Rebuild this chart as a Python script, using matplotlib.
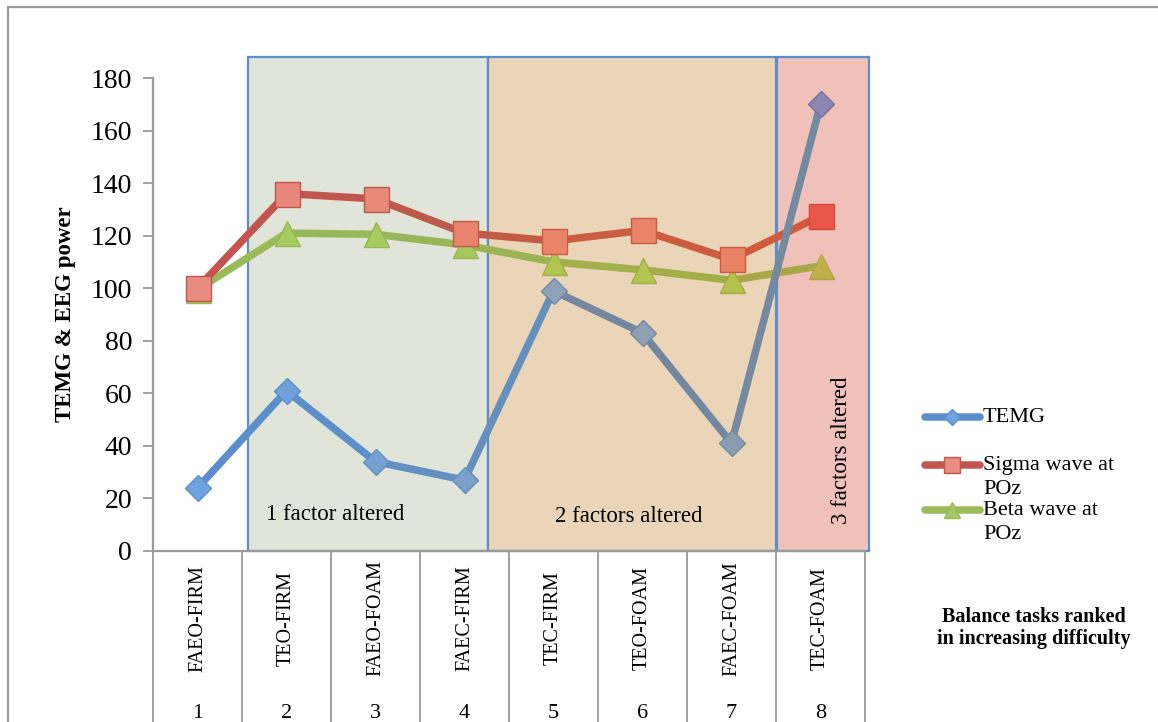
import matplotlib.pyplot as plt
from matplotlib.patches import Rectangle
from matplotlib.lines import Line2D
import matplotlib.transforms as mtransforms
import numpy as np

plt.rcParams['font.family'] = ['Liberation Serif', 'DejaVu Serif']

# data
tasks = ['FAEO-FIRM', 'TEO-FIRM', 'FAEO-FOAM', 'FAEC-FIRM',
         'TEC-FIRM', 'TEO-FOAM', 'FAEC-FOAM', 'TEC-FOAM']
ranks = [1, 2, 3, 4, 5, 6, 7, 8]
temg = [24, 61, 34, 27, 99, 83, 41, 170]
sigma = [100, 136, 134, 121, 118, 122, 111, 127.5]
beta = [99.5, 121, 120.5, 116.5, 110, 107, 103, 108.5]

# per point colours (the original uses a colour gradient along the series)
temg_line = ['#5b8fcc', '#5d8fc8', '#6290c2', '#658fbd', '#7489a0', '#74879e', '#748aa0', '#7a7099']
temg_fill = ['#6fa3e0', '#6fa0d8', '#76a0d0', '#7aa0cc', '#8ea3b8', '#8fa0b3', '#8a9cb0', '#8b86b2']
sigma_line = ['#c4544f', '#c0554f', '#bd5a4c', '#c25c45', '#c95e40', '#cb5c40', '#cf5a3e', '#d4483a']
sigma_fill = ['#e88d80', '#e8877a', '#e8897a', '#e8846e', '#ea8468', '#ea8468', '#ea8264', '#e8584a']
beta_line = ['#9bbb59', '#98b95a', '#97b559', '#9cb452', '#a3b04c', '#a4ae48', '#aaa846', '#b4a44a']
beta_fill = ['#a8c868', '#a8cc60', '#a8cc60', '#a6c85a', '#b0c650', '#b0c650', '#b4c24a', '#c0b048']

# group boxes: (x0, x1, fill)
boxes = [(1.567, 4.264, '#e1e5d9'), (4.264, 7.5, '#ead5b9'), (7.515, 8.545, '#efc1b9')]

fig = plt.figure(figsize=(11.58, 7.22), dpi=100)
ax = fig.add_axes([153 / 1158, 1 - 551 / 722, 712 / 1158, 473 / 722])

# outer chart border
fig.add_artist(Rectangle((8 / 1158, -0.1), 1.2, 1.1 - 7 / 722, transform=fig.transFigure,
                         fill=False, ec='#9a9a9a', lw=1.6))

for x0, x1, fc in boxes:
    ax.add_patch(Rectangle((x0, 0), x1 - x0, 188, fc=fc, ec='#5b8fcb', lw=1.6,
                           clip_on=False, zorder=1))

ax.text(2.545, 14, '1 factor altered', fontsize=16.5, ha='center', va='center', zorder=2)
ax.text(5.85, 13.3, '2 factors altered', fontsize=16.5, ha='center', va='center', zorder=2)
ax.text(8.24, 38.4, '3 factors altered', fontsize=16.5, ha='center', va='center',
        rotation=90, zorder=2)


def draw_series(vals, lcols, fcols, marker, ms, z):
    for i in range(len(vals) - 1):
        ax.plot(ranks[i:i + 2], vals[i:i + 2], color=lcols[i], lw=5.4,
                solid_capstyle='round', zorder=z)
    for i in range(len(vals)):
        ax.plot(ranks[i], vals[i], marker=marker, ms=ms, mfc=fcols[i], mec=lcols[i],
                mew=1, ls='none', zorder=z + 0.5)


draw_series(beta, beta_line, beta_fill, '^', 18, 3)
draw_series(sigma, sigma_line, sigma_fill, 's', 18, 4)
draw_series(temg, temg_line, temg_fill, 'D', 13, 5)

ax.set_xlim(0.5, 8.5)
ax.set_ylim(0, 180)
ax.set_yticks(np.arange(0, 181, 20))
ax.tick_params(axis='y', labelsize=20, length=7, width=1.3, color='#9a9a9a', pad=8)
ax.set_xticks([])
for s in ['top', 'right']:
    ax.spines[s].set_visible(False)
for s in ['left', 'bottom']:
    ax.spines[s].set_color('#9a9a9a')
    ax.spines[s].set_linewidth(1.6)
ax.patch.set_visible(False)

ax.set_ylabel('TEMG & EEG power', fontsize=16.5, fontweight='bold')
ax.yaxis.set_label_coords(-0.108, 0.5)

# table under the axis
trans = mtransforms.blended_transform_factory(ax.transData, ax.transAxes)
for b in np.arange(0.5, 9, 1):
    ax.plot([b, b], [0, -0.5], transform=trans, color='#a0a0a0', lw=1.4, clip_on=False)
for r, t in zip(ranks, tasks):
    ax.text(r, -0.142, t, transform=trans, rotation=90, ha='center', va='center', fontsize=14.5)
    ax.text(r, -0.343, str(r), transform=trans, ha='center', va='center', fontsize=16)

fig.text(1034 / 1158, 1 - 628 / 722, 'Balance tasks ranked\nin increasing difficulty',
         ha='center', va='center', fontsize=14.5, fontweight='bold', linespacing=1.15)

# legend drawn by hand: handle line + marker, text block
leg_names = ['TEMG', 'Sigma wave at\nPOz', 'Beta wave at\nPOz']
leg_line = ['#5b8fcc', '#c4544f', '#9bbb59']
leg_fill = ['#6fa3e0', '#e88d80', '#a8c868']
leg_mark = ['D', 's', '^']
leg_ms = [8, 11, 11]
leg_y = [417, 465, 510]
leg_text_y = [417, 477.5, 522.5]
for name, lc, fc, mk, ms, y, ty in zip(leg_names, leg_line, leg_fill, leg_mark, leg_ms,
                                        leg_y, leg_text_y):
    fy = 1 - y / 722
    fig.add_artist(Line2D([925 / 1158, 980 / 1158], [fy, fy], transform=fig.transFigure,
                          color=lc, lw=5.4, solid_capstyle='round'))
    fig.add_artist(Line2D([952 / 1158], [fy], transform=fig.transFigure, marker=mk, ms=ms,
                          mfc=fc, mec=lc, ls='none'))
    fig.text(983 / 1158, 1 - ty / 722, name, ha='left', va='center', fontsize=16,
             linespacing=1.4)

fig.savefig('out.png', dpi=100)
